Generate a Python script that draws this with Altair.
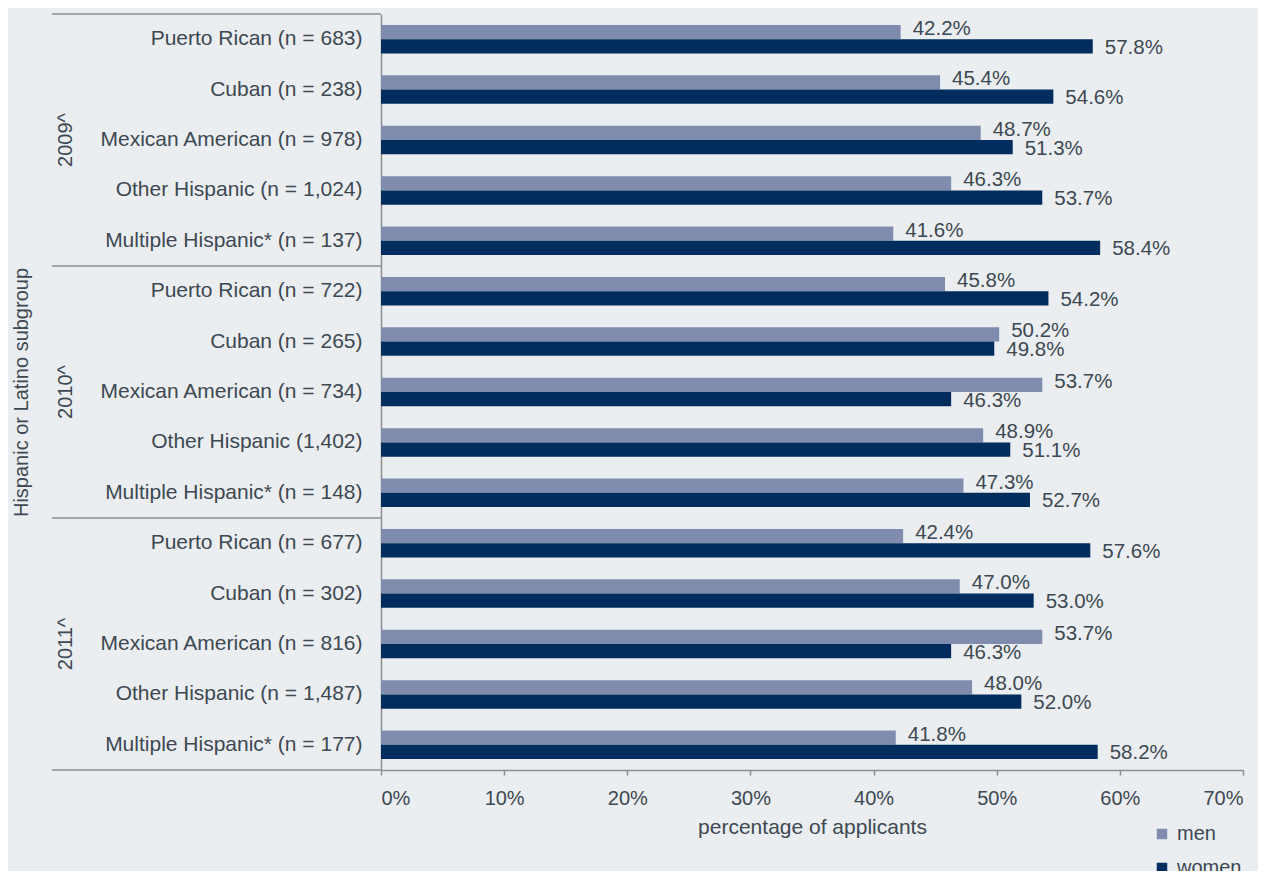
import altair as alt
import pandas as pd

years = ["2009^", "2010^", "2011^"]
subgroups = [
    ["Puerto Rican (n = 683)", "Cuban (n = 238)", "Mexican American (n = 978)",
     "Other Hispanic (n = 1,024)", "Multiple Hispanic* (n = 137)"],
    ["Puerto Rican (n = 722)", "Cuban (n = 265)", "Mexican American (n = 734)",
     "Other Hispanic (1,402)", "Multiple Hispanic* (n = 148)"],
    ["Puerto Rican (n = 677)", "Cuban (n = 302)", "Mexican American (n = 816)",
     "Other Hispanic (n = 1,487)", "Multiple Hispanic* (n = 177)"],
]
men = [
    [42.2, 45.4, 48.7, 46.3, 41.6],
    [45.8, 50.2, 53.7, 48.9, 47.3],
    [42.4, 47.0, 53.7, 48.0, 41.8],
]
women = [
    [57.8, 54.6, 51.3, 53.7, 58.4],
    [54.2, 49.8, 46.3, 51.1, 52.7],
    [57.6, 53.0, 46.3, 52.0, 58.2],
]
sexes = ["men", "women"]
colors = ["#7F8CAD", "#012D5E"]
x_ticks = [0, 10, 20, 30, 40, 50, 60, 70]

TEXT = "#3D4852"
LINE = "#8E8E8E"
FONT = "Liberation Sans"

rows = []
categories = []
for gi, yr in enumerate(years):
    for si, cat in enumerate(subgroups[gi]):
        categories.append(cat)
        for sex, vals in (("men", men), ("women", women)):
            v = vals[gi][si]
            rows.append({"year": yr, "category": cat, "sex": sex,
                         "value": v, "label": f"{v:.1f}%"})
df = pd.DataFrame(rows)

tops = pd.DataFrame({"category": [g[0] for g in subgroups]})
bottom = pd.DataFrame({"category": [subgroups[-1][-1]]})
year_df = pd.DataFrame({"category": [g[2] for g in subgroups], "year": years})

y_enc = alt.Y(
    "category:N", sort=categories,
    scale=alt.Scale(paddingInner=0, paddingOuter=0),
    axis=alt.Axis(title="Hispanic or Latino subgroup", labelFontSize=21,
                  labelPadding=19, ticks=False, domainColor=LINE, domainWidth=1.5,
                  labelColor=TEXT, titleColor=TEXT, titleFontSize=20,
                  titleFontWeight="normal", titleX=-350, labelLimit=500,
                  grid=False, labelFont=FONT, titleFont=FONT),
)
x_enc = alt.X(
    "value:Q", scale=alt.Scale(domain=[0, 70]),
    axis=alt.Axis(values=x_ticks, labelExpr="datum.value + '%'",
                  title="percentage of applicants", grid=False, tickSize=5,
                  tickColor=LINE, tickWidth=1.5, domainColor=LINE, domainWidth=1.5,
                  labelPadding=13, labelFontSize=20, labelColor=TEXT,
                  titleFontSize=21, titleFontWeight="normal", titleColor=TEXT,
                  titlePadding=8, labelFont=FONT, titleFont=FONT),
)
yoff = alt.YOffset("sex:N", sort=sexes,
                   scale=alt.Scale(paddingOuter=0.768, paddingInner=0))

base = alt.Chart(df)
bars = base.mark_bar().encode(
    x=x_enc, y=y_enc, yOffset=yoff,
    color=alt.Color("sex:N", scale=alt.Scale(domain=sexes, range=colors),
                    legend=alt.Legend(title=None, orient="none", legendX=771,
                                      legendY=810, symbolType="square",
                                      symbolSize=110, symbolStrokeWidth=0,
                                      labelFontSize=20, labelColor=TEXT,
                                      labelFont=FONT, rowPadding=14,
                                      labelOffset=5, padding=0)),
)
men_txt = base.transform_filter(alt.datum.sex == "men").mark_text(
    align="left", baseline="middle", dx=12, dy=-3, fontSize=20.5, color=TEXT, font=FONT
).encode(x="value:Q", y=alt.Y("category:N", sort=categories), yOffset=yoff, text="label:N")
women_txt = base.transform_filter(alt.datum.sex == "women").mark_text(
    align="left", baseline="middle", dx=12, dy=1.5, fontSize=20.5, color=TEXT, font=FONT
).encode(x="value:Q", y=alt.Y("category:N", sort=categories), yOffset=yoff, text="label:N")

sep_top = alt.Chart(tops).mark_rule(color=LINE, strokeWidth=1.5).encode(
    y=alt.Y("category:N", sort=categories, bandPosition=0),
    x=alt.value(-329), x2=alt.value(0),
)
sep_bottom = alt.Chart(bottom).mark_rule(color=LINE, strokeWidth=1.5).encode(
    y=alt.Y("category:N", sort=categories, bandPosition=1),
    x=alt.value(-329), x2=alt.value(0),
)
year_txt = alt.Chart(year_df).mark_text(
    angle=270, align="center", baseline="middle", fontSize=20, color=TEXT, font=FONT
).encode(
    y=alt.Y("category:N", sort=categories), x=alt.value(-315.5), text="year:N"
)

chart = alt.layer(bars, men_txt, women_txt, sep_top, sep_bottom, year_txt).properties(
    width=862, height=756,
    autosize=alt.AutoSizeParams(type="none"),
    padding={"left": 373, "top": 6, "right": 15, "bottom": 101},
    background="#EAEEF0",
).configure_view(stroke=None)

chart.save("out.html", embed_options={"renderer": "svg", "actions": False})
